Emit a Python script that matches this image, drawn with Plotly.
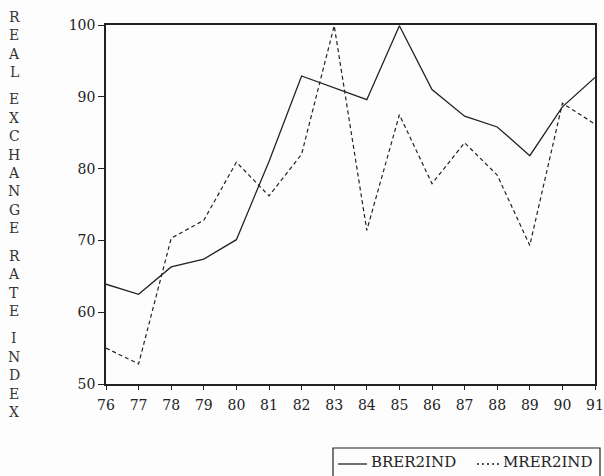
import plotly.graph_objects as go

years = list(range(76, 92))
year_labels = [str(y) for y in years]
brer2ind = [63.9, 62.5, 66.3, 67.4, 70.1, 81.0, 92.9, 91.2, 89.6, 99.9, 91.0, 87.3, 85.8, 81.8, 88.6, 92.7]
mrer2ind = [55.0, 52.8, 70.3, 72.8, 80.9, 76.2, 82.0, 99.9, 71.4, 87.5, 77.9, 83.6, 79.1, 69.3, 89.1, 86.2]
y_ticks = [50, 60, 70, 80, 90, 100]
y_title_words = ["REAL", "EXCHANGE", "RATE", "INDEX"]
series_names = ["BRER2IND", "MRER2IND"]

FONT = "DejaVu Serif"
INK = "#222222"

W, H = 604, 476
L, R, T, B = 106, 9, 25, 92
plot_w = W - L - R
plot_h = H - T - B


def px(xp):
    return (xp - L) / plot_w


def py(yp):
    return (H - B - yp) / plot_h


fig = go.Figure()
fig.add_trace(go.Scatter(x=years, y=brer2ind, mode="lines", name=series_names[0],
                         line=dict(color=INK, width=1.3)))
fig.add_trace(go.Scatter(x=years, y=mrer2ind, mode="lines", name=series_names[1],
                         line=dict(color=INK, width=1.2, dash="4px,3px")))

annotations = []
ypos = 16.7
step, gap = 18.4, 27.5
for word in y_title_words:
    for ch in word:
        annotations.append(dict(text=ch, xref="paper", yref="paper",
                                x=px(14), y=py(ypos),
                                showarrow=False, xanchor="center", yanchor="middle",
                                font=dict(family=FONT, size=14, color="#333333")))
        ypos += step
    ypos += gap - step

# legend box (drawn manually)
shapes = [
    dict(type="rect", xref="paper", yref="paper", x0=px(333), x1=px(600),
         y0=py(448), y1=py(490), line=dict(color=INK, width=1.2), fillcolor="rgba(0,0,0,0)"),
    dict(type="line", xref="paper", yref="paper", x0=px(338), x1=px(367),
         y0=py(464), y1=py(464), line=dict(color=INK, width=1.3)),
    dict(type="line", xref="paper", yref="paper", x0=px(477), x1=px(500),
         y0=py(464), y1=py(464), line=dict(color=INK, width=1.3, dash="2px,3px")),
]
annotations.append(dict(text=series_names[0], xref="paper", yref="paper", x=px(369), y=py(462),
                        showarrow=False, xanchor="left", yanchor="middle",
                        font=dict(family=FONT, size=15, color=INK)))
annotations.append(dict(text=series_names[1], xref="paper", yref="paper", x=px(501), y=py(462),
                        showarrow=False, xanchor="left", yanchor="middle",
                        font=dict(family=FONT, size=15, color=INK)))

fig.update_layout(
    width=W, height=H,
    margin=dict(l=L, r=R, t=T, b=B, autoexpand=False),
    paper_bgcolor="#fdfdfd", plot_bgcolor="#fdfdfd",
    font=dict(family=FONT, size=14, color=INK),
    showlegend=False,
    annotations=annotations,
    shapes=shapes,
)
fig.update_xaxes(range=[76, 91], tickmode="array", tickvals=years, ticktext=year_labels,
                 showgrid=False, zeroline=False, showline=True, linecolor=INK, linewidth=1.6,
                 mirror=True, ticks="outside", ticklen=4, tickcolor=INK, tickwidth=1.2,
                 ticklabelstandoff=3, ticklabeloverflow="allow",
                 tickfont=dict(family=FONT, size=14, color=INK))
fig.update_yaxes(range=[50, 100], tickmode="array", tickvals=y_ticks,
                 ticktext=[str(v) for v in y_ticks],
                 showgrid=False, zeroline=False, showline=True, linecolor=INK, linewidth=1.6,
                 mirror=True, ticks="outside", ticklen=6, tickcolor=INK, tickwidth=1.2,
                 ticklabelstandoff=0, ticklabeloverflow="allow",
                 tickfont=dict(family=FONT, size=14, color=INK))

fig.write_html("out.html")
